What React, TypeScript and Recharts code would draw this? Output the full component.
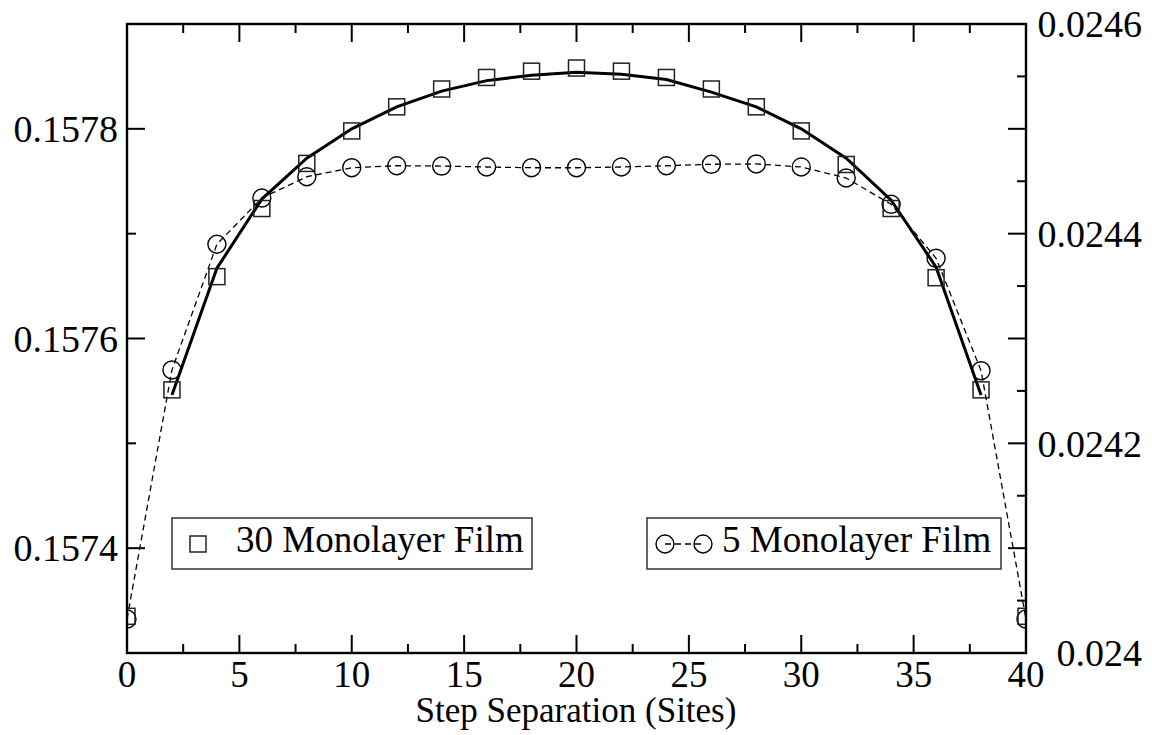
import { ComposedChart, Line, XAxis, YAxis } from "recharts";

// step separation (sites)
const sites = [0, 2, 4, 6, 8, 10, 12, 14, 16, 18, 20, 22, 24, 26, 28, 30, 32, 34, 36, 38, 40];

// 30 monolayer film (left axis), squares
const film30 = [
  0.157335, 0.157551, 0.157659, 0.157724, 0.157767, 0.157798, 0.157821, 0.157838, 0.157849,
  0.157855, 0.157858, 0.157855, 0.157849, 0.157838, 0.157821, 0.157798, 0.157766, 0.157724,
  0.157658, 0.157551, 0.157335,
];

// solid curve drawn through the 30 ML data (no value at the two ends)
const film30Fit = [
  null, 0.157546, 0.157667, 0.157733, 0.157772, 0.1578, 0.157821, 0.157836, 0.157846, 0.157851,
  0.157854, 0.157852, 0.157847, 0.157835, 0.157821, 0.1578, 0.157772, 0.157732, 0.157668,
  0.157546, null,
];

// 5 monolayer film (right axis), circles
const film5 = [
  0.0240324, 0.02427, 0.0243899, 0.024434, 0.0244543, 0.0244629, 0.0244648, 0.0244645,
  0.0244636, 0.0244629, 0.0244629, 0.0244636, 0.0244648, 0.0244662, 0.0244665, 0.0244636,
  0.0244531, 0.024428, 0.0243765, 0.0242693, 0.0240324,
];

const xTicks = [0, 2.5, 5, 7.5, 10, 12.5, 15, 17.5, 20, 22.5, 25, 27.5, 30, 32.5, 35, 37.5, 40];
const xLabels = [0, 5, 10, 15, 20, 25, 30, 35, 40];

const leftTicks = [0.1573, 0.1574, 0.1575, 0.1576, 0.1577, 0.1578, 0.1579];
const leftLabels = [0.1574, 0.1576, 0.1578];

const rightTicks = [
  0.024, 0.02405, 0.0241, 0.02415, 0.0242, 0.02425, 0.0243, 0.02435, 0.0244, 0.02445, 0.0245,
  0.02455, 0.0246,
];
const rightMajor = [0.024, 0.0241, 0.0242, 0.0243, 0.0244, 0.0245, 0.0246];
const rightLabels = [0.024, 0.0242, 0.0244, 0.0246];

const data = sites.map((x, i) => ({
  x,
  film30: film30[i],
  fit: film30Fit[i],
  film5: film5[i],
}));

const W = 1152;
const H = 735;
const LEFT = 127;
const RIGHT = 1026;
const TOP = 24;
const BOTTOM = 653;
const FONT = "'Liberation Serif', 'Times New Roman', serif";

const has = (list: number[], v: number) => list.some((t) => Math.abs(t - v) < 1e-9);

const XTick = ({ payload }: any) => {
  const cx = payload.coordinate;
  const major = has(xLabels, payload.value);
  const len = major ? 18 : 9;
  return (
    <g>
      <line x1={cx} x2={cx} y1={BOTTOM} y2={BOTTOM - len} stroke="#000" strokeWidth={2} />
      <line x1={cx} x2={cx} y1={TOP} y2={TOP + len} stroke="#000" strokeWidth={2} />
      {major && (
        <text x={cx} y={687} textAnchor="middle" fontFamily={FONT} fontSize={37} fill="#000">
          {payload.value}
        </text>
      )}
    </g>
  );
};

const LeftTick = ({ payload }: any) => {
  const cy = payload.coordinate;
  const major = has(leftLabels, payload.value);
  return (
    <g>
      <line x1={LEFT} x2={LEFT + (major ? 18 : 9)} y1={cy} y2={cy} stroke="#000" strokeWidth={2} />
      {major && (
        <text
          x={118}
          y={cy}
          dy="0.35em"
          textAnchor="end"
          fontFamily={FONT}
          fontSize={38}
          fill="#000"
        >
          {payload.value.toFixed(4)}
        </text>
      )}
    </g>
  );
};

const RightTick = ({ payload }: any) => {
  const cy = payload.coordinate;
  const major = has(rightMajor, payload.value);
  const label = has(rightLabels, payload.value);
  return (
    <g>
      <line x1={RIGHT} x2={RIGHT - (major ? 18 : 9)} y1={cy} y2={cy} stroke="#000" strokeWidth={2} />
      {label && (
        <text
          x={1142}
          y={cy}
          dy="0.35em"
          textAnchor="end"
          fontFamily={FONT}
          fontSize={38}
          fill="#000"
        >
          {String(payload.value)}
        </text>
      )}
    </g>
  );
};

const SquareDot = (props: any) => {
  const { cx, cy, index } = props;
  if (cx == null || cy == null) return <g key={`s${index}`} />;
  return (
    <rect
      key={`s${index}`}
      x={cx - 8}
      y={cy - 8}
      width={16}
      height={16}
      fill="none"
      stroke="#222"
      strokeWidth={1.5}
    />
  );
};

const CircleDot = (props: any) => {
  const { cx, cy, index } = props;
  if (cx == null || cy == null) return <g key={`c${index}`} />;
  return <circle key={`c${index}`} cx={cx} cy={cy} r={9} fill="none" stroke="#000" strokeWidth={1.4} />;
};

export default function App() {
  return (
    <div style={{ position: "absolute", left: 0, top: 0, width: W, height: H, background: "#fff" }}>
      <ComposedChart width={W} height={H} data={data} margin={{ top: TOP, right: 0, bottom: 0, left: 0 }}>
        <XAxis
          dataKey="x"
          type="number"
          domain={[0, 40]}
          ticks={xTicks}
          interval={0}
          height={82}
          axisLine={false}
          tickLine={false}
          tick={<XTick />}
          allowDataOverflow
        />
        <YAxis
          yAxisId="left"
          type="number"
          domain={[0.1573, 0.1579]}
          ticks={leftTicks}
          interval={0}
          width={LEFT}
          axisLine={false}
          tickLine={false}
          tick={<LeftTick />}
          allowDataOverflow
        />
        <YAxis
          yAxisId="right"
          orientation="right"
          type="number"
          domain={[0.024, 0.0246]}
          ticks={rightTicks}
          interval={0}
          width={W - RIGHT}
          axisLine={false}
          tickLine={false}
          tick={<RightTick />}
          allowDataOverflow
        />
        <Line
          yAxisId="right"
          dataKey="film5"
          type="linear"
          stroke="#000"
          strokeWidth={1.3}
          strokeDasharray="6 4"
          dot={CircleDot}
          isAnimationActive={false}
        />
        <Line
          yAxisId="left"
          dataKey="fit"
          type="linear"
          stroke="#000"
          strokeWidth={3}
          dot={false}
          isAnimationActive={false}
        />
        <Line
          yAxisId="left"
          dataKey="film30"
          type="linear"
          stroke="none"
          dot={SquareDot}
          isAnimationActive={false}
        />
      </ComposedChart>
      <svg
        width={W}
        height={H}
        style={{ position: "absolute", left: 0, top: 0, pointerEvents: "none" }}
      >
        <rect
          x={LEFT}
          y={TOP}
          width={RIGHT - LEFT}
          height={BOTTOM - TOP}
          fill="none"
          stroke="#000"
          strokeWidth={2.4}
        />
        <text x={576} y={722} textAnchor="middle" fontFamily={FONT} fontSize={35} fill="#000">
          Step Separation (Sites)
        </text>

        <rect x={172} y={518} width={360} height={51} fill="#fff" stroke="#333" strokeWidth={1.5} />
        <rect x={190} y={536} width={16} height={16} fill="none" stroke="#222" strokeWidth={1.5} />
        <text x={236} y={552} fontFamily={FONT} fontSize={37} fill="#000">
          30 Monolayer Film
        </text>

        <rect x={647} y={518} width={354} height={51} fill="#fff" stroke="#333" strokeWidth={1.5} />
        <line x1={665} x2={703} y1={544} y2={544} stroke="#000" strokeWidth={1.3} strokeDasharray="6 4" />
        <circle cx={665} cy={544} r={9} fill="none" stroke="#000" strokeWidth={1.4} />
        <circle cx={703} cy={544} r={9} fill="none" stroke="#000" strokeWidth={1.4} />
        <text x={722} y={552} fontFamily={FONT} fontSize={37} fill="#000">
          5 Monolayer Film
        </text>
      </svg>
    </div>
  );
}
